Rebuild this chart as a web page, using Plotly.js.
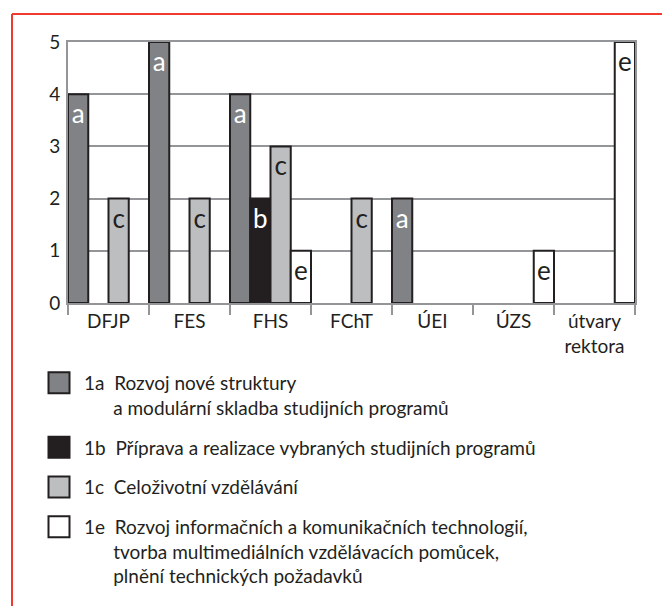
<!DOCTYPE html>
<html>
<head>
<meta charset="utf-8">
<script src="https://cdn.plot.ly/plotly-3.0.1.min.js"></script>
<style>
  html, body { margin: 0; padding: 0; background: #ffffff; }
  #chart { width: 662px; height: 606px; }
  .legend .legendpoints path {
    transform-box: fill-box;
    transform-origin: center;
    transform: translate(15px, 0) scale(1.75);
    vector-effect: non-scaling-stroke;
  }
</style>
</head>
<body>
<div id="chart"></div>
<script>
// ---- data ----
const categories = ['DFJP', 'FES', 'FHS', 'FChT', 'ÚEI', 'ÚZS', 'útvary<br>rektora'];
const values1a = [4, 5, 4, null, 2, null, null];
const values1b = [null, null, 2, null, null, null, null];
const values1c = [2, 2, 3, 2, null, null, null];
const values1e = [null, null, 1, null, null, 1, 5];
const barLetters = ['a', 'b', 'c', 'e'];
const legendCodes = ['1a', '1b', '1c', '1e'];
const legendTexts = [
  ['Rozvoj nové struktury', 'a modulární skladba studijních programů'],
  ['Příprava a realizace vybraných studijních programů'],
  ['Celoživotní vzdělávání'],
  ['Rozvoj informačních a komunikačních technologií,', 'tvorba multimediálních vzdělávacích pomůcek,', 'plnění technických požadavků']
];
const yTickValues = [0, 1, 2, 3, 4, 5];

// ---- styles ----
const seriesValues = [values1a, values1b, values1c, values1e];
const fillColors = ['#808285', '#231f20', '#bcbec0', '#ffffff'];
const letterColors = ['#ffffff', '#ffffff', '#231f20', '#231f20'];
const inkColor = '#231f20';
const gridColor = '#939598';
const fontFamily = 'Lato, "Open Sans", sans-serif';
const NB = '\u00a0';

function legendLabel(code, lines) {
  let s = code + NB + NB + lines[0];
  for (let i = 1; i < lines.length; i++) {
    s += '<br>' + NB.repeat(6) + lines[i];
  }
  return s;
}

const traces = seriesValues.map((vals, i) => ({
  type: 'bar',
  x: categories,
  y: vals,
  name: legendLabel(legendCodes[i], legendTexts[i]),
  legendgroup: 'g' + i,
  text: vals.map(v => (v === null ? '' : barLetters[i])),
  textposition: 'inside',
  insidetextanchor: 'end',
  textangle: 0,
  constraintext: 'none',
  insidetextfont: { family: fontFamily, size: 26, color: letterColors[i] },
  marker: { color: fillColors[i], line: { color: inkColor, width: 2 } },
  hoverinfo: 'x+y'
}));

// plot area in pixels (for the decorative red frame)
const M = { l: 68, r: 27, t: 42, b: 302 };
const W = 662, H = 606;
const pw = W - M.l - M.r, ph = H - M.t - M.b;
const px = x => (x - M.l) / pw;
const py = y => (H - M.b - y) / ph;

const layout = {
  width: W,
  height: H,
  margin: M,
  paper_bgcolor: '#ffffff',
  plot_bgcolor: '#ffffff',
  font: { family: fontFamily, size: 19, color: inkColor },
  barmode: 'group',
  bargap: 0,
  bargroupgap: 0,
  showlegend: true,
  legend: {
    x: px(44), y: py(364), xanchor: 'left', yanchor: 'top',
    font: { family: fontFamily, size: 19, color: inkColor },
    traceorder: 'grouped',
    tracegroupgap: 12,
    valign: 'top',
    bgcolor: 'rgba(0,0,0,0)'
  },
  xaxis: {
    type: 'category',
    showline: true, mirror: true, linecolor: gridColor, linewidth: 2,
    ticks: 'outside', tickson: 'boundaries', ticklen: 10, tickwidth: 2, tickcolor: gridColor,
    tickfont: { family: fontFamily, size: 19, color: inkColor },
    showgrid: false, fixedrange: true
  },
  yaxis: {
    range: [0, 5],
    tickvals: yTickValues,
    showgrid: true, gridcolor: gridColor, gridwidth: 2,
    showline: true, mirror: true, linecolor: gridColor, linewidth: 2,
    zeroline: false,
    ticks: '', ticklabelstandoff: 2,
    tickfont: { family: fontFamily, size: 19, color: inkColor },
    fixedrange: true
  },
  shapes: [
    { type: 'line', xref: 'paper', yref: 'paper', x0: px(12), x1: px(670), y0: py(14), y1: py(14), line: { color: '#ef3b2f', width: 2 } },
    { type: 'line', xref: 'paper', yref: 'paper', x0: px(12), x1: px(12), y0: py(14), y1: py(620), line: { color: '#ef3b2f', width: 2 } }
  ]
};

Plotly.newPlot('chart', traces, layout, { displayModeBar: false, staticPlot: true });
</script>
</body>
</html>
